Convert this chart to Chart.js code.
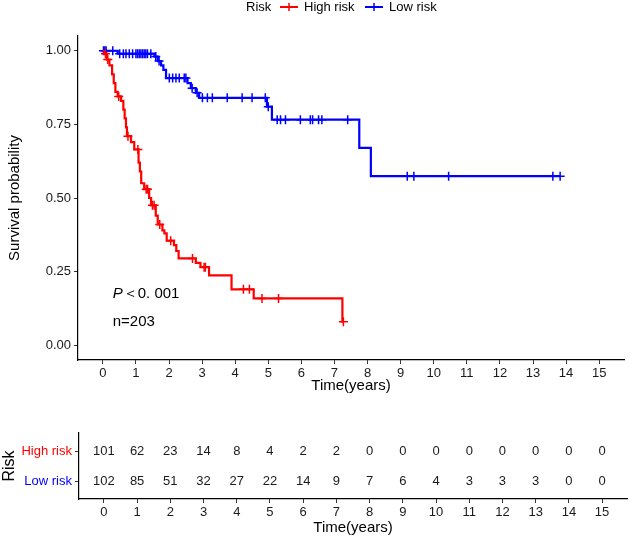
<!DOCTYPE html>
<html><head><meta charset="utf-8">
<script src="https://cdn.jsdelivr.net/npm/chart.js@4/dist/chart.umd.min.js"></script>
<style>
html,body{margin:0;padding:0;background:#fff;}
#wrap{position:relative;width:630px;height:539px;overflow:hidden;}
#c1{position:absolute;left:0;top:0;}
#c2{position:absolute;left:0;top:400px;}
</style></head><body>
<div id="wrap"><canvas id="c1" width="630" height="400"></canvas><canvas id="c2" width="630" height="139"></canvas></div>
<script>
// ---- data ----
const timeTicks = [0,1,2,3,4,5,6,7,8,9,10,11,12,13,14,15];
const survTicks = [0,0.25,0.5,0.75,1];
const groups = ['High risk','Low risk'];
const groupColors = ['#FF0000','#0000FF'];

const highTimes = [0,0.05,0.12,0.2,0.28,0.33,0.38,0.45,0.55,0.62,0.66,0.70,0.73,0.85,0.95,1.08,1.12,1.16,1.25,1.40,1.46,1.60,1.66,1.80,1.86,1.93,2.15,2.22,2.29,2.81,2.95,3.21,3.89,4.56,7.24];
const highSurv  = [1.0,0.99,0.97,0.95,0.92,0.89,0.86,0.845,0.83,0.80,0.77,0.74,0.71,0.69,0.665,0.62,0.59,0.55,0.53,0.50,0.475,0.44,0.41,0.39,0.38,0.355,0.34,0.32,0.295,0.28,0.265,0.237,0.19,0.159,0.08];
const highCensor = [0.08,0.15,0.48,0.76,1.06,1.31,1.35,1.50,1.55,1.72,2.05,2.71,3.06,3.10,4.25,4.43,4.81,5.31,7.27];

const lowTimes = [0,0.45,1.56,1.66,1.76,1.83,1.91,2.56,2.66,2.81,2.91,4.96,5.11,7.75,8.10];
const lowSurv  = [1.0,0.99,0.98,0.965,0.95,0.935,0.907,0.89,0.873,0.857,0.84,0.81,0.766,0.67,0.574];
const lowCensor = [0.02,0.06,0.1,0.3,0.51,0.62,0.7,0.8,0.9,1.0,1.05,1.1,1.15,1.2,1.25,1.3,1.35,1.45,1.6,1.7,2.01,2.11,2.21,2.31,2.46,2.51,2.7,2.85,3.01,3.16,3.31,3.76,4.21,4.51,4.91,5.0,5.27,5.37,5.52,5.97,6.27,6.34,6.52,6.62,7.40,9.2,9.4,10.45,13.6,13.82];

const highAtRisk = [101,62,23,14,8,4,2,2,0,0,0,0,0,0,0,0];
const lowAtRisk  = [102,85,51,32,27,22,14,9,7,6,4,3,3,3,0,0];
const legendTitle = 'Risk';
const pText = 'P';
const pRest = '＜0. 001';
const nText = 'n=203';

// ---- helpers ----
function survAt(times, surv, t){ let s = surv[0]; for(let i=0;i<times.length;i++){ if(times[i]<=t) s=surv[i]; } return s; }
function curve(times, surv, cens){
  const pts = times.map((t,i)=>({x:t,y:surv[i]}));
  const last = Math.max(...cens);
  if(last > times[times.length-1]) pts.push({x:last, y:surv[surv.length-1]});
  return pts;
}
function censPts(times, surv, cens){ return cens.map(t=>({x:t,y:survAt(times,surv,t)})); }

const FONT = "'Liberation Sans', Arial, sans-serif";
Chart.defaults.font.family = FONT;
Chart.defaults.color = '#1a1a1a';

const axisCommon = {
  border:{display:true,color:'#000',width:1.2},
  grid:{display:true,drawOnChartArea:false,drawTicks:true,tickLength:4,tickColor:'#333',tickWidth:1}
};

// ---- main KM chart ----
const legendPlugin = {
  id:'kmExtras',
  afterDraw(chart){
    const ctx = chart.ctx;
    ctx.save();
    // legend
    ctx.font = "13px " + FONT; ctx.textBaseline='middle'; ctx.fillStyle='#000';
    const ly = 7;
    ctx.textAlign='left';
    ctx.fillText(legendTitle, 246, ly);
    const items = [[280,304],[365,389]];
    items.forEach((it,i)=>{
      ctx.strokeStyle = groupColors[i]; ctx.lineWidth=2;
      ctx.beginPath(); ctx.moveTo(it[0],ly); ctx.lineTo(it[0]+18,ly); ctx.stroke();
      ctx.lineWidth=1.5;
      ctx.beginPath(); ctx.moveTo(it[0]+9,ly-4); ctx.lineTo(it[0]+9,ly+4); ctx.stroke();
      ctx.fillStyle='#000';
      ctx.fillText(groups[i], it[1], ly);
    });
    // annotations
    const xs = chart.scales.x, ys = chart.scales.y;
    const px = xs.getPixelForValue(0.3);
    const py = ys.getPixelForValue(0.175);
    ctx.font = "italic 15px " + FONT;
    ctx.fillText(pText, px, py);
    const w = ctx.measureText(pText).width;
    ctx.font = "15px " + FONT;
    ctx.fillText(pRest, px + w, py);
    ctx.fillText(nText, px, ys.getPixelForValue(0.08));
    ctx.restore();
  }
};

new Chart(document.getElementById('c1'), {
  type:'line',
  data:{datasets:[
    {label:groups[0], data:curve(highTimes,highSurv,highCensor), stepped:'before', borderColor:groupColors[0], borderWidth:2.2, pointRadius:0, fill:false},
    {label:groups[1], data:curve(lowTimes,lowSurv,lowCensor), stepped:'before', borderColor:groupColors[1], borderWidth:2.2, pointRadius:0, fill:false},
    {label:'hc', data:censPts(highTimes,highSurv,highCensor), showLine:false, pointStyle:'cross', pointRadius:4.5, pointBorderWidth:1.5, borderColor:groupColors[0]},
    {label:'lc', data:censPts(lowTimes,lowSurv,lowCensor), showLine:false, pointStyle:'cross', pointRadius:4.5, pointBorderWidth:1.5, borderColor:groupColors[1]}
  ]},
  options:{
    responsive:false, animation:false, events:[],
    layout:{padding:{top:36,right:3,left:0,bottom:0}},
    plugins:{legend:{display:false},tooltip:{enabled:false}},
    scales:{
      x:{type:'linear', min:-0.75, max:15.75, ...axisCommon,
         afterBuildTicks(s){ s.ticks = timeTicks.map(v=>({value:v})); },
         afterFit(s){ s.height = 40; },
         ticks:{font:{size:13}, color:'#1a1a1a', padding:2, callback:v=>String(v)},
         title:{display:true, text:'Time(years)', font:{size:15}, color:'#000', padding:{top:0,bottom:5}}
      },
      y:{type:'linear', min:-0.05, max:1.05, ...axisCommon,
         afterBuildTicks(s){ s.ticks = survTicks.map(v=>({value:v})); },
         afterFit(s){ s.width = 78; },
         ticks:{font:{size:13}, color:'#1a1a1a', padding:3, callback:v=>Number(v).toFixed(2)},
         title:{display:true, text:'Survival probability', font:{size:15}, color:'#000', padding:{top:6,bottom:0}}
      }
    }
  },
  plugins:[legendPlugin]
});

// ---- risk table ----
const tablePlugin = {
  id:'riskTable',
  afterDraw(chart){
    const ctx = chart.ctx, xs = chart.scales.x, ys = chart.scales.y;
    ctx.save();
    ctx.font = "13px " + FONT; ctx.fillStyle='#1a1a1a'; ctx.textAlign='center'; ctx.textBaseline='middle';
    timeTicks.forEach((t,i)=>{
      ctx.fillText(String(highAtRisk[i]), xs.getPixelForValue(t), ys.getPixelForValue(2));
      ctx.fillText(String(lowAtRisk[i]), xs.getPixelForValue(t), ys.getPixelForValue(1));
    });
    ctx.restore();
  }
};

new Chart(document.getElementById('c2'), {
  type:'line',
  data:{datasets:[{data:[], pointRadius:0}]},
  options:{
    responsive:false, animation:false, events:[],
    layout:{padding:{top:33,right:3,left:0,bottom:0}},
    plugins:{legend:{display:false},tooltip:{enabled:false}},
    scales:{
      x:{type:'linear', min:-0.75, max:15.75, ...axisCommon,
         afterBuildTicks(s){ s.ticks = timeTicks.map(v=>({value:v})); },
         afterFit(s){ s.height = 40; },
         ticks:{font:{size:13}, color:'#1a1a1a', padding:2, callback:v=>String(v)},
         title:{display:true, text:'Time(years)', font:{size:15}, color:'#000', padding:{top:0,bottom:2}}
      },
      y:{type:'linear', min:0.43, max:2.63, ...axisCommon,
         afterBuildTicks(s){ s.ticks = [{value:2},{value:1}]; },
         afterFit(s){ s.width = 79; },
         ticks:{font:{size:13}, padding:3,
           color:ctx=> ctx.tick && ctx.tick.value===2 ? groupColors[0] : groupColors[1],
           callback:v=> v===2 ? groups[0] : (v===1 ? groups[1] : '')},
         title:{display:true, text:'Risk', font:{size:16}, color:'#000', padding:{top:0,bottom:0}}
      }
    }
  },
  plugins:[tablePlugin]
});
</script>
</body></html>
